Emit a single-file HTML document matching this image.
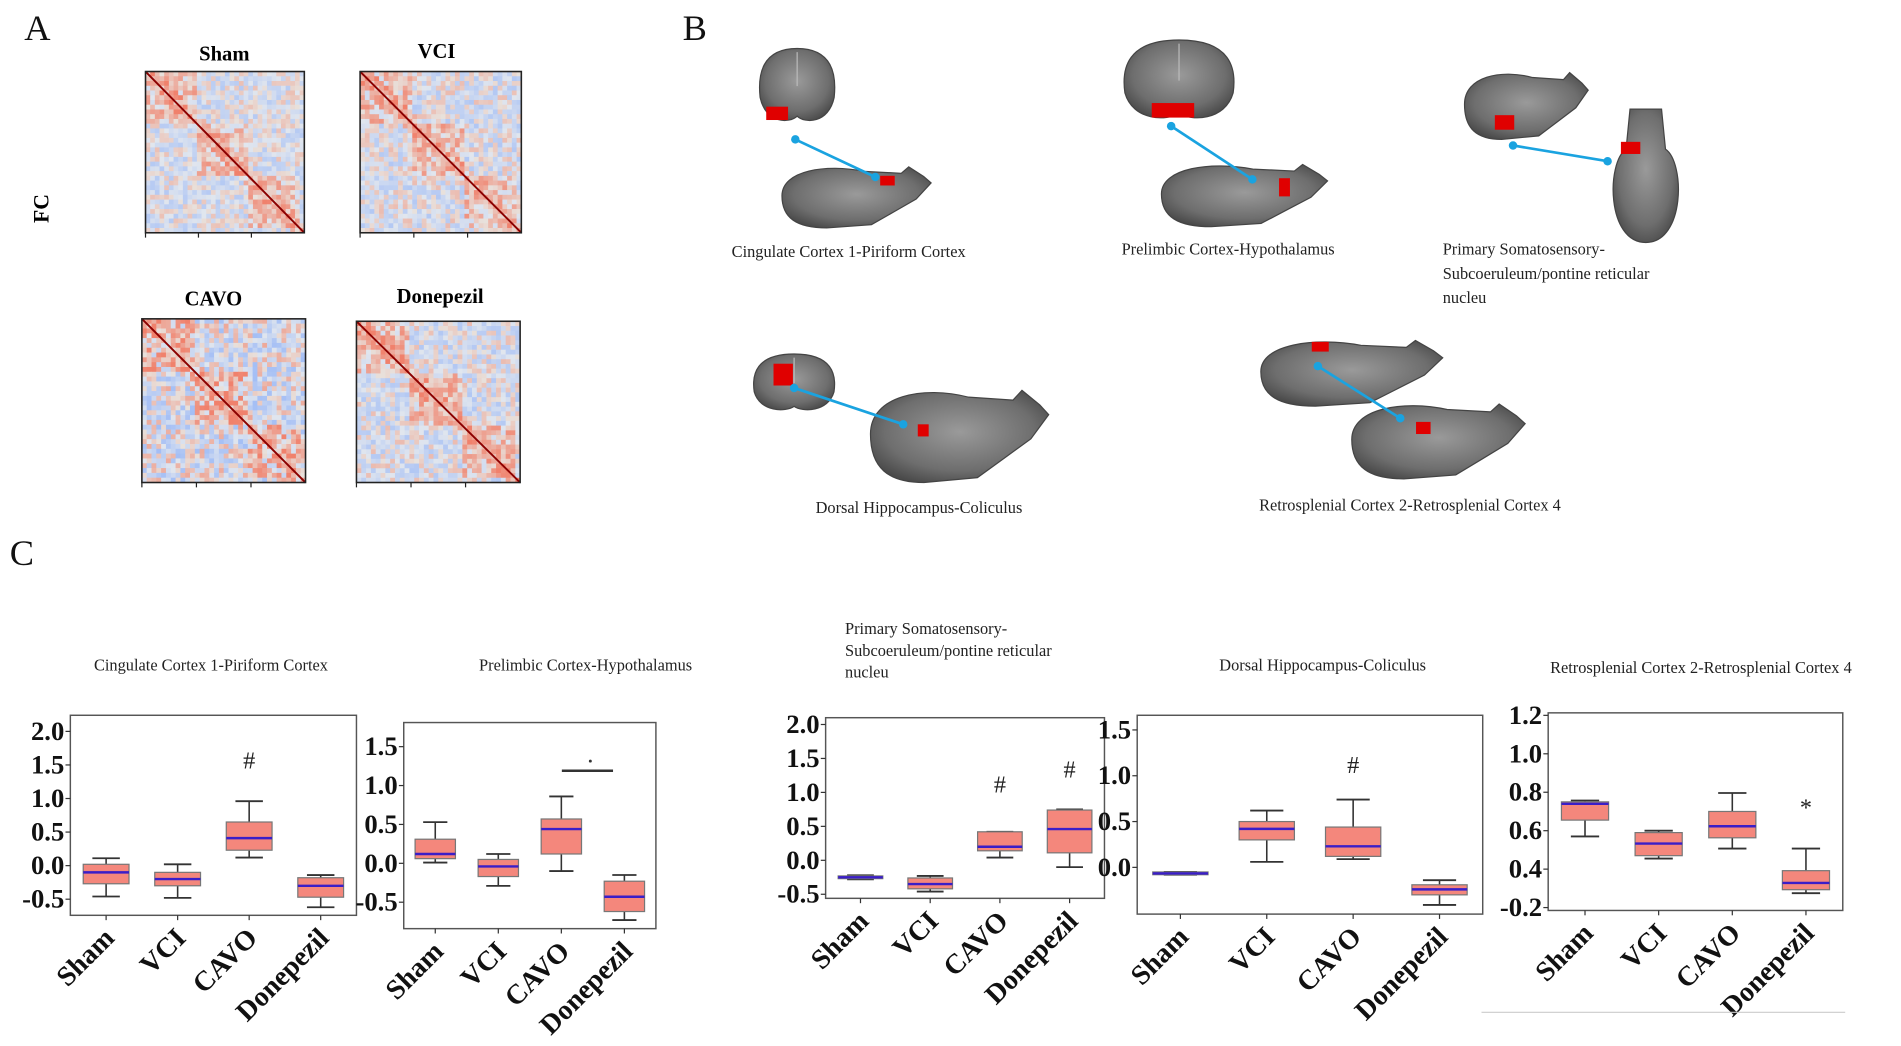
<!DOCTYPE html>
<html><head><meta charset="utf-8">
<style>
html,body{margin:0;padding:0;background:#fff;}
svg{display:block;}
text{font-family:"Liberation Serif",serif;}
.tick{font-weight:bold;font-size:22px;fill:#111;}
.cat{font-weight:bold;font-size:23px;fill:#111;}
.ttl{font-size:13.5px;fill:#222;}
.plab{font-size:30px;fill:#111;}
</style></head>
<body>
<svg id="fig" width="1901" height="1046" viewBox="0 0 1568 862.8" xmlns="http://www.w3.org/2000/svg">
<defs>
<radialGradient id="brainG" cx="50%" cy="45%" r="60%"><stop offset="0" stop-color="#9a9a9a"/><stop offset="0.7" stop-color="#6e6e6e"/><stop offset="1" stop-color="#4a4a4a"/></radialGradient>
</defs>
<text class="plab" x="20" y="33">A</text>
<text class="plab" x="563" y="33">B</text>
<text class="plab" x="8" y="466">C</text>
<text x="40" y="172" transform="rotate(-90 40 172)" text-anchor="middle" style="font-weight:bold;font-size:18px">FC</text>
<g id="panelA"></g>
<g id="panelB"></g>
<g id="panelC"></g>
</svg>
<script>
const NS="http://www.w3.org/2000/svg";
function mk(tag,attrs,parent){const e=document.createElementNS(NS,tag);for(const k in attrs)e.setAttribute(k,attrs[k]);if(parent)parent.appendChild(e);return e;}

/* ---------- Panel A: FC matrices (texture) ---------- */
const matrixGroups=["Sham","VCI","CAVO","Donepezil"];
const matrixBoxes=[[120,59,131,133],[297,59,133,133],[117,263,135,135],[294,265,135,133]];
const matrixTitlePos=[[185,50],[360,48],[176,252],[363,250]];
let seed=7;function rnd(){seed=(seed*16807)%2147483647;return seed/2147483647;}
const pA=document.getElementById('panelA');
matrixGroups.forEach((g,i)=>{
  const [x,y,w,h]=matrixBoxes[i];
  const grp=mk('g',{},pA);
  
  
  const n=34,cw=w/n,ch=h/n;
  const strength=[0.5,0.55,0.75,0.55][i];
  for(let r=0;r<n;r++)for(let c=0;c<n;c++){
    const d=Math.abs(r-c);
    let v=(rnd()-0.5)*2*strength;
    const blk=(Math.floor(r/11)===Math.floor(c/11));
    v+= blk?0.3:-0.15;
    v+= d<3?0.3:0;
    let col;
    if(v>0){const t=Math.min(1,v)*0.8;col=`rgb(${Math.round(232+10*t)},${Math.round(225-120*t)},${Math.round(220-140*t)})`;}
    else{const t=Math.min(1,-v)*0.8;col=`rgb(${Math.round(225-85*t)},${Math.round(230-55*t)},${Math.round(238+10*t)})`;}
    mk('rect',{x:x+c*cw,y:y+r*ch,width:cw+0.3,height:ch+0.3,fill:col},grp);
  }
  mk('line',{x1:x,y1:y,x2:x+w,y2:y+h,stroke:'#8b0000','stroke-width':1.6},grp);
  mk('rect',{x:x,y:y,width:w,height:h,fill:'none',stroke:'#222','stroke-width':1.3},grp);
  for(let k=0;k<3;k++)mk('line',{x1:x+k*w/3,y1:y+h,x2:x+k*w/3,y2:y+h+4,stroke:'#222'},grp);
  const t=mk('text',{x:matrixTitlePos[i][0],y:matrixTitlePos[i][1],'text-anchor':'middle',style:'font-weight:bold;font-size:17px'},pA);
  t.textContent=g;
  
  
});

/* ---------- Panel B: brains ---------- */
const pB=document.getElementById('panelB');
function coronal(x,y,w,h){mk('path',{d:`M${x+w*0.5},${y} C${x+w*0.95},${y} ${x+w},${y+h*0.35} ${x+w*0.97},${y+h*0.65} C${x+w*0.9},${y+h} ${x+w*0.6},${y+h} ${x+w*0.5},${y+h*0.9} C${x+w*0.4},${y+h} ${x+w*0.1},${y+h} ${x+w*0.03},${y+h*0.65} C${x},${y+h*0.35} ${x+w*0.05},${y} ${x+w*0.5},${y}Z`,fill:'url(#brainG)',stroke:'#444'},pB);
 mk('line',{x1:x+w*0.5,y1:y+3,x2:x+w*0.5,y2:y+h*0.5,stroke:'#bbb','stroke-width':1},pB);}
function sagittal(x,y,w,h){mk('path',{d:`M${x},${y+h*0.5} C${x},${y+h*0.1} ${x+w*0.3},${y} ${x+w*0.55},${y+h*0.12} L${x+w*0.8},${y+h*0.15} L${x+w*0.85},${y+h*0.05} L${x+w*0.95},${y+h*0.2} L${x+w},${y+h*0.3} L${x+w*0.9},${y+h*0.55} L${x+w*0.75},${y+h*0.75} L${x+w*0.6},${y+h*0.95} L${x+w*0.3},${y+h} C${x+w*0.1},${y+h} ${x},${y+h*0.85} ${x},${y+h*0.5}Z`,fill:'url(#brainG)',stroke:'#444'},pB);}
function dorsal(x,y,w,h){mk('path',{d:`M${x+w*0.3},${y} L${x+w*0.7},${y} L${x+w*0.75},${y+h*0.3} C${x+w},${y+h*0.4} ${x+w},${y+h} ${x+w*0.5},${y+h} C${x},${y+h} ${x},${y+h*0.4} ${x+w*0.25},${y+h*0.3}Z`,fill:'url(#brainG)',stroke:'#444'},pB);}
function red(x,y,w,h){mk('rect',{x:x,y:y,width:w,height:h,fill:'#e00000'},pB);}
function conn(x1,y1,x2,y2){mk('line',{x1,y1,x2,y2,stroke:'#1aa3e0','stroke-width':2.2},pB);mk('circle',{cx:x1,cy:y1,r:3.5,fill:'#1aa3e0'},pB);mk('circle',{cx:x2,cy:y2,r:3.5,fill:'#1aa3e0'},pB);}
coronal(625,40,65,62);sagittal(645,135,123,53);red(632,88,18,11);red(726,145,12,8);conn(656,115,722,146);
coronal(925,33,95,67);sagittal(958,133,137,54);red(950,85,35,12);red(1055,147,9,15);conn(966,104,1033,148);
sagittal(1208,57,102,58);dorsal(1325,90,65,110);red(1233,95,16,12);red(1337,117,16,10);conn(1248,120,1326,133);
coronal(620,292,70,48);sagittal(718,318,147,80);red(638,300,16,18);red(757,350,9,10);conn(655,320,745,350);
sagittal(1040,278,150,57);sagittal(1115,330,143,65);red(1082,282,14,8);red(1168,348,12,10);conn(1087,302,1155,345);
const bLabels=[["Cingulate Cortex 1-Piriform Cortex",700,212,"middle"],["Prelimbic Cortex-Hypothalamus",1013,210,"middle"],["Primary Somatosensory-",1190,210,"start"],["Subcoeruleum/pontine reticular",1190,230,"start"],["nucleu",1190,250,"start"],["Dorsal Hippocampus-Coliculus",758,423,"middle"],["Retrosplenial Cortex 2-Retrosplenial Cortex 4",1163,421,"middle"]];
bLabels.forEach((l,i)=>{const t=mk('text',{x:l[1],y:l[2],'text-anchor':l[3],class:'ttl'},pB);t.textContent=l[0];
 
 });

/* ---------- Panel C: boxplots ---------- */
const categories=["Sham","VCI","CAVO","Donepezil"];
// per chart: [whiskerTop, q3, median, q1, whiskerBottom] per category
const c1Stats=[[0.11,0.02,-0.10,-0.27,-0.46],[0.02,-0.10,-0.20,-0.30,-0.48],[0.96,0.65,0.41,0.23,0.12],[-0.14,-0.18,-0.30,-0.47,-0.62]];
const c2Stats=[[0.53,0.31,0.12,0.06,0.01],[0.12,0.05,-0.04,-0.17,-0.29],[0.86,0.57,0.44,0.12,-0.10],[-0.15,-0.23,-0.43,-0.62,-0.73]];
const c3Stats=[[-0.22,-0.23,-0.25,-0.27,-0.28],[-0.23,-0.26,-0.35,-0.42,-0.46],[0.42,0.42,0.20,0.14,0.04],[0.75,0.74,0.46,0.11,-0.10]];
const c4Stats=[[-0.05,-0.05,-0.066,-0.08,-0.08],[0.62,0.50,0.42,0.30,0.06],[0.74,0.44,0.23,0.12,0.09],[-0.14,-0.19,-0.24,-0.30,-0.41]];
const c5Stats=[[0.757,0.75,0.74,0.655,0.57],[0.60,0.59,0.533,0.47,0.455],[0.796,0.70,0.623,0.563,0.507],[0.507,0.392,0.328,0.293,0.275]];
const c1Ticks=[-0.5,0,0.5,1,1.5,2];const c1TickLabels=["-0.5","0.0","0.5","1.0","1.5","2.0"];
const c2Ticks=[-0.5,0,0.5,1,1.5];const c2TickLabels=["-0.5","0.0","0.5","1.0","1.5"];
const c3Ticks=[-0.5,0,0.5,1,1.5,2];const c3TickLabels=["-0.5","0.0","0.5","1.0","1.5","2.0"];
const c4Ticks=[0,0.5,1,1.5];const c4TickLabels=["0.0","0.5","1.0","1.5"];
const c5Ticks=[0.2,0.4,0.6,0.8,1.0,1.2];const c5TickLabels=["-0.2","0.4","0.6","0.8","1.0","1.2"];
const c1Marks=[["#",2,1.45]];const c2Marks=[];const c3Marks=[["#",2,1.0],["#",3,1.22]];const c4Marks=[["#",2,1.03]];const c5Marks=[["*",3,0.68]];
const titles=[["Cingulate Cortex 1-Piriform Cortex"],["Prelimbic Cortex-Hypothalamus"],["Primary Somatosensory-","Subcoeruleum/pontine reticular","nucleu"],["Dorsal Hippocampus-Coliculus"],["Retrosplenial Cortex 2-Retrosplenial Cortex 4"]];
const layout=[
 {x:58,y:590,w:236,h:165,min:-0.74,max:2.24,tx:174,ty:553,anchor:'middle'},
 {x:333,y:596,w:208,h:170,min:-0.84,max:1.81,tx:483,ty:553,anchor:'middle'},
 {x:681,y:592,w:230,h:149,min:-0.56,max:2.10,tx:697,ty:523,anchor:'start'},
 {x:938,y:590,w:285,h:164,min:-0.51,max:1.66,tx:1091,ty:553,anchor:'middle'},
 {x:1277,y:588,w:243,h:163,min:0.185,max:1.213,tx:1403,ty:555,anchor:'middle'}];
const allStats=[c1Stats,c2Stats,c3Stats,c4Stats,c5Stats];
const allTicks=[c1Ticks,c2Ticks,c3Ticks,c4Ticks,c5Ticks];
const allTickLabels=[c1TickLabels,c2TickLabels,c3TickLabels,c4TickLabels,c5TickLabels];
const allMarks=[c1Marks,c2Marks,c3Marks,c4Marks,c5Marks];
const pC=document.getElementById('panelC');
layout.forEach((L,ci)=>{
  const g=mk('g',{},pC);
  
  
  const ys=v=>L.y+L.h-(v-L.min)/(L.max-L.min)*L.h;
  const xs=i=>L.x+L.w*(0.125+0.25*i);
  titles[ci].forEach((t,k)=>{const e=mk('text',{x:L.tx,y:L.ty+k*18,'text-anchor':L.anchor,class:'ttl'},g);e.textContent=t;
    
    });
  mk('rect',{x:L.x,y:L.y,width:L.w,height:L.h,fill:'#fff',stroke:'#555','stroke-width':1.2},g);
  allTicks[ci].forEach((v,k)=>{
    mk('line',{x1:L.x-4,y1:ys(v),x2:L.x,y2:ys(v),stroke:'#333'},g);
    const t=mk('text',{x:L.x-5,y:ys(v)+7,'text-anchor':'end',class:'tick'},g);t.textContent=allTickLabels[ci][k];
    
    
  });
  categories.forEach((c,i)=>{
    const cx=xs(i);const s=allStats[ci][i];const bw=L.w*0.16;
    mk('line',{x1:cx,y1:L.y+L.h,x2:cx,y2:L.y+L.h+4,stroke:'#333'},g);
    const t=mk('text',{x:cx+8,y:L.y+L.h+20,'text-anchor':'end',class:'cat',transform:`rotate(-45 ${cx+8} ${L.y+L.h+20})`},g);t.textContent=c;
    
    
    const b=mk('g',{},g);
    
    
    mk('line',{x1:cx,y1:ys(s[0]),x2:cx,y2:ys(s[4]),stroke:'#333','stroke-width':1.3},b);
    mk('line',{x1:cx-bw*0.3,y1:ys(s[0]),x2:cx+bw*0.3,y2:ys(s[0]),stroke:'#333','stroke-width':1.5},b);
    mk('line',{x1:cx-bw*0.3,y1:ys(s[4]),x2:cx+bw*0.3,y2:ys(s[4]),stroke:'#333','stroke-width':1.5},b);
    mk('rect',{x:cx-bw/2,y:ys(s[1]),width:bw,height:Math.max(2,ys(s[3])-ys(s[1])),fill:'#f4877c',stroke:'#777','stroke-width':1},b);
    mk('line',{x1:cx-bw/2,y1:ys(s[2]),x2:cx+bw/2,y2:ys(s[2]),stroke:'#3a1ec8','stroke-width':2},b);
  });
  allMarks[ci].forEach(m=>{const t=mk('text',{x:xs(m[1]),y:ys(m[2]),'text-anchor':'middle',style:'font-size:20px;fill:#222'},g);t.textContent=m[0];
    
    });
  if(ci===1){const y=ys(1.19);mk('line',{x1:L.x+L.w*0.627,y1:y,x2:L.x+L.w*0.83,y2:y,stroke:'#333','stroke-width':2},g);
    mk('circle',{cx:L.x+L.w*0.74,cy:y-8,r:1.2,fill:'#333'},g);}
});
const sep=mk('line',{x1:1222,y1:835,x2:1522,y2:835,stroke:'#ccc','stroke-width':1},pC);


</script>
</body></html>
